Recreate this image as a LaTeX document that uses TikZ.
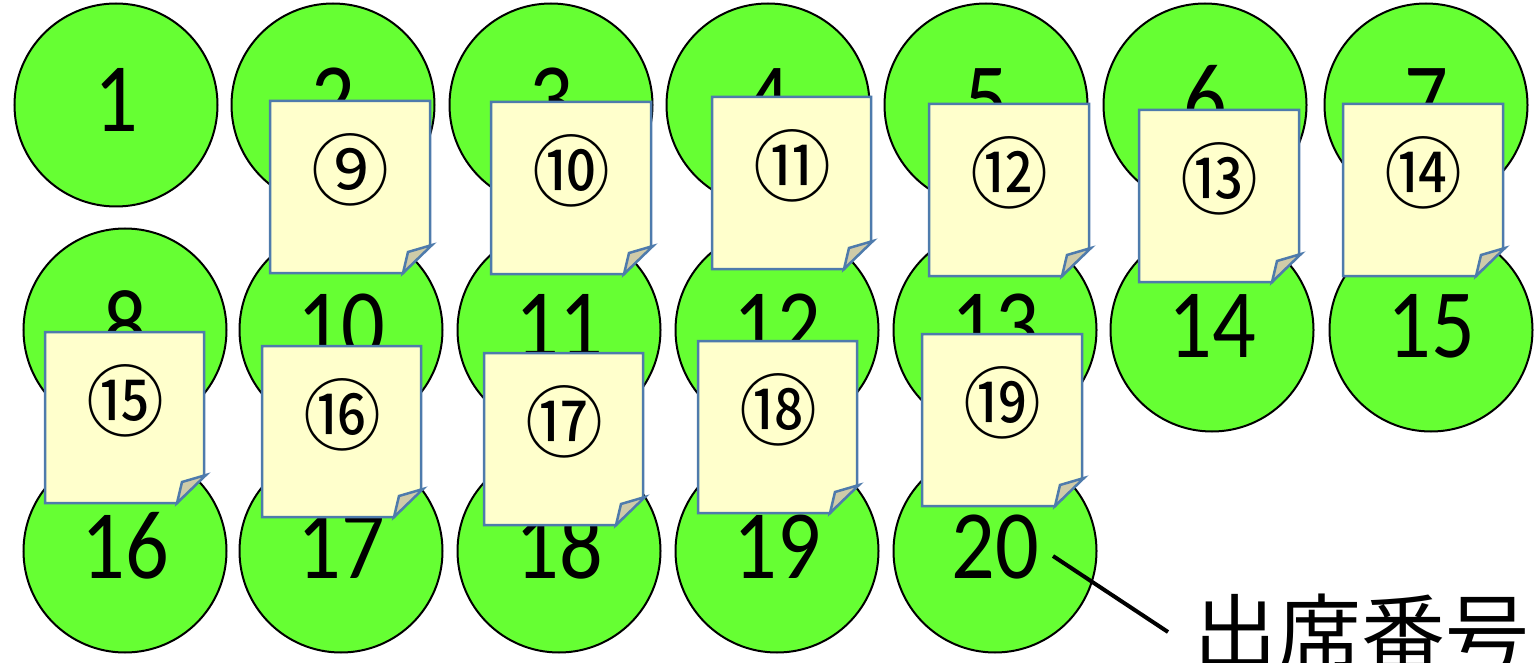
\documentclass[tikz,border=0pt]{standalone}
\usepackage{fontspec}
\newfontfamily\digitfont[FakeStretch=0.88]{Carlito}
\newfontfamily\cjkfont{Noto Sans CJK JP}
\definecolor{seatgreen}{HTML}{66FF33}
\definecolor{noteyellow}{HTML}{FFFFCC}
\definecolor{noteblue}{HTML}{4E7BAC}
\definecolor{notefoldfill}{HTML}{CFCBA8}
\newcommand\stickynote[6]{%
  \draw[notebody] (#2,#3) -- (#4,#3) -- (#4,#5-28) -- (#4-27,#5) -- (#2,#5) -- cycle;
  \draw[notefold] (#4-27,#5) -- (#4-22,#5-21) -- (#4+2,#5-28) -- cycle;
  \node[notenum] (#1) at (#2+80,#3+69) {#6};
}
\begin{document}
\begin{tikzpicture}[x=1pt,y=-1pt,
  seat/.style={circle, draw=black, line width=2pt, fill=seatgreen,
    minimum size=203pt, inner sep=0pt, text height=62pt, text depth=8pt,
    font=\digitfont\fontsize{98}{98}\selectfont},
  notebody/.style={draw=noteblue, line width=2.5pt, fill=noteyellow, line join=miter},
  notefold/.style={draw=noteblue, line width=2.5pt, fill=notefoldfill, line join=miter},
  notenum/.style={inner sep=0pt, font=\cjkfont\fontsize{78}{78}\selectfont},
  labeltext/.style={inner sep=0pt, anchor=base west, font=\cjkfont\fontsize{84}{84}\selectfont},
  leader/.style={draw=black, line width=4pt}]
\useasboundingbox (0,0) rectangle (1537,663);
% row 1
\node[seat] (c1) at (116,105) {1};
\node[seat] (c2) at (333,105) {2};
\node[seat] (c3) at (551,105) {3};
\node[seat] (c4) at (768,105) {4};
\node[seat] (c5) at (986,105) {5};
\node[seat] (c6) at (1205,105) {6};
\node[seat] (c7) at (1426,105) {7};
% row 2
\node[seat] (c8) at (125,330) {8};
\node[seat] (c10) at (341,330) {10};
\node[seat] (c11) at (559,330) {11};
\node[seat] (c12) at (777,330) {12};
\node[seat] (c13) at (995,330) {13};
\node[seat] (c14) at (1212,330) {14};
\node[seat] (c15) at (1431,330) {15};
% row 3
\node[seat] (c16) at (125,551) {16};
\node[seat] (c17) at (341,551) {17};
\node[seat] (c18) at (559,551) {18};
\node[seat] (c19) at (777,551) {19};
\node[seat] (c20) at (995,551) {20};
% sticky notes
\stickynote{n9}{270}{101}{430}{273}{⑨}
\stickynote{n10}{491}{102}{651}{274}{⑩}
\stickynote{n11}{712}{97}{871}{269}{⑪}
\stickynote{n12}{929}{104}{1089}{276}{⑫}
\stickynote{n13}{1139}{110}{1299}{282}{⑬}
\stickynote{n14}{1343}{104}{1503}{276}{⑭}
\stickynote{n15}{45}{332}{204}{503}{⑮}
\stickynote{n16}{262}{346}{421}{517}{⑯}
\stickynote{n17}{484}{353}{643}{525}{⑰}
\stickynote{n18}{698}{341}{857}{513}{⑱}
\stickynote{n19}{922}{334}{1082}{506}{⑲}
% label
\coordinate (leadA) at (1053,556);
\coordinate (leadB) at (1168,632);
\draw[leader] (leadA) -- (leadB);
\node[labeltext] (lbl) at (1193,664) {出席番号};
\end{tikzpicture}
\end{document}
